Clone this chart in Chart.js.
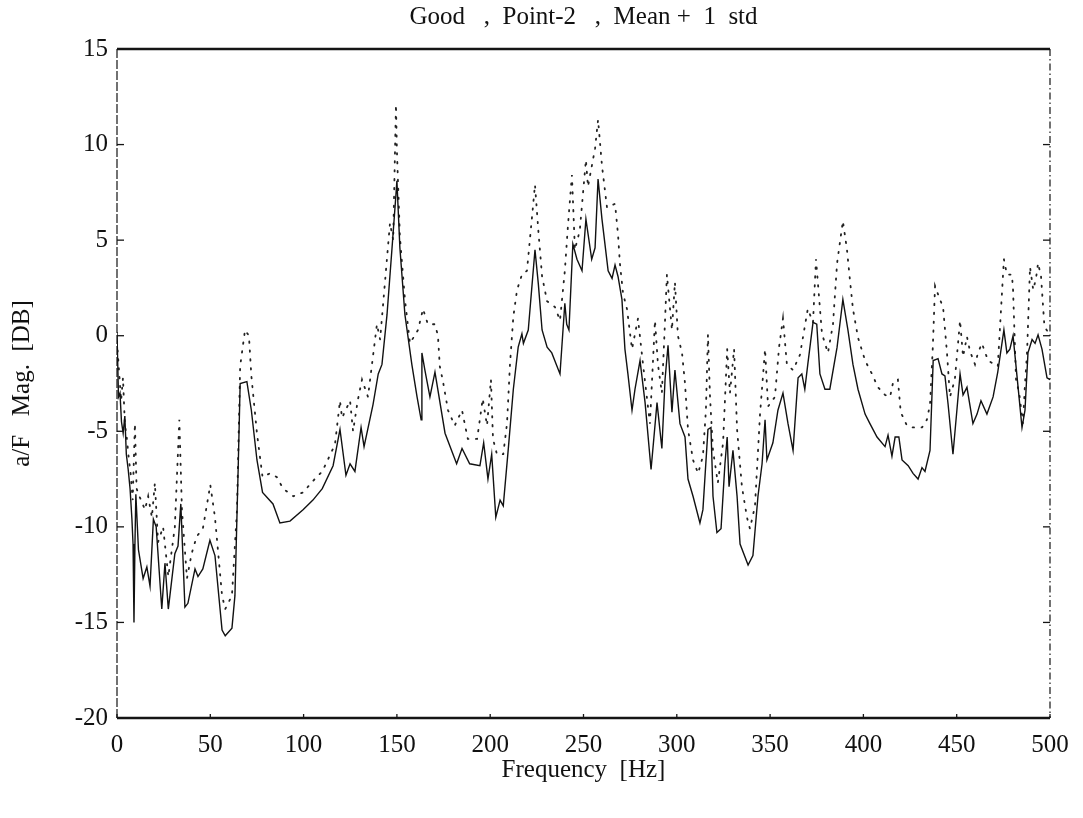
<!DOCTYPE html>
<html>
<head>
<meta charset="utf-8">
<script src="https://cdn.jsdelivr.net/npm/chart.js@4.4.0/dist/chart.umd.min.js"></script>
<style>
  html, body { margin: 0; padding: 0; background: #fff; }
</style>
</head>
<body>
<canvas id="grafica" width="1083" height="818"></canvas>
<script>
/* Good, Point-2: a/F magnitude, mean (solid) and mean + 1 std (dotted) */

const tituloGrafica = 'Good   ,  Point-2   ,  Mean +  1  std';
const tituloX = 'Frequency  [Hz]';
const tituloY = 'a/F   Mag.  [DB]';

const ticksX = [0, 50, 100, 150, 200, 250, 300, 350, 400, 450, 500];
const ticksY = [-20, -15, -10, -5, 0, 5, 10, 15];

// Mean (solid)
const mediaFrec = [
  0, 0.8, 1.6, 2.4, 3.3, 4.2, 5, 6, 7, 8, 8.6, 9.1, 9.6, 10.1, 11.5, 14, 16, 17.7, 19.5, 21,
  24, 25.7, 27.5, 31, 32.7, 34.2, 36.4, 38, 41.8, 43.4, 46, 49.8, 52.5, 56.3, 58, 61.6, 63.2, 65, 66, 69.6,
  72, 75, 78, 83.6, 87.3, 92.7, 99.7, 105, 110, 115.8, 119.5, 122.7, 124.9, 127.5, 130.8, 132.4, 137.2, 140, 142, 144.7,
  147.4, 149.5, 150, 151.6, 154.3, 158, 160.8, 163, 163.4, 165, 167.7, 170.4, 175.8, 182, 184.9, 189, 194.5, 196.5, 198.8, 200.8,
  203, 205.3, 207, 209.8, 212.4, 215, 217, 217.8, 220.4, 224, 225.8, 227.8, 230.5, 233, 237.4, 240, 241, 242.2, 244.3, 246.5,
  249.2, 251.3, 254.4, 256.2, 257.8, 259.9, 263.2, 265.3, 266.9, 268.5, 270.6, 272.2, 273.8, 276, 277.6, 280.3, 283, 286.2, 289.4, 292,
  293.7, 295.3, 297.4, 299, 301.7, 304.4, 306, 308.7, 312.4, 314, 316.7, 318.3, 319.4, 321.5, 323.7, 325.8, 327, 328, 330.1, 332.3,
  333.9, 338.2, 340.8, 343.5, 345.7, 347.3, 348.3, 351.5, 354.2, 356.9, 359.6, 362.3, 364.4, 365, 367, 368.6, 370.2, 373, 375, 376.7,
  379.4, 382, 385.9, 389, 391.7, 394.4, 397.1, 400.9, 403.5, 407.3, 411.6, 413.2, 415.3, 417, 419, 420.7, 424, 426.6, 429.3, 431.4,
  433, 435.7, 437.4, 440, 442.1, 443.7, 445.4, 448, 450.1, 451.8, 453.4, 455.5, 458.7, 460.9, 463, 466.2, 469.5, 472, 475.3, 476.9,
  478.5, 480.2, 482.3, 485, 486.6, 488.2, 490.4, 492, 493.6, 495.7, 498.4, 500
];
const mediaDb = [
  0.2, -3.2, -3.0, -4.5, -5.1, -4.2, -6.2, -7.0, -8.0, -9.6, -10.9, -15.0, -11.0, -8.3, -11.2, -12.7, -12.1, -13.1, -9.6, -10,
  -14.3, -11.9, -14.3, -11.4, -11.0, -8.8, -14.2, -14.0, -12.2, -12.6, -12.2, -10.7, -11.5, -15.4, -15.7, -15.3, -13.6, -6.7, -2.5, -2.4,
  -3.9, -6.5, -8.2, -8.8, -9.8, -9.7, -9.1, -8.6, -8.0, -6.8, -4.9, -7.3, -6.7, -7.1, -4.8, -5.8, -3.6, -2.0, -1.5, 1.1,
  4.6, 7.4, 8.1, 4.6, 1.1, -1.5, -3.2, -4.4, -0.9, -1.8, -3.2, -1.9, -5.1, -6.7, -5.9, -6.7, -6.8, -5.6, -7.5, -6.2,
  -9.5, -8.6, -8.9, -5.8, -2.8, -0.6, 0.1, -0.4, 0.3, 4.5, 2.7, 0.3, -0.6, -0.9, -2.0, 1.7, 0.6, 0.3, 4.8, 4.0,
  3.4, 6.1, 4.0, 4.6, 8.2, 6.1, 3.4, 3.0, 3.7, 3.1, 1.9, -0.7, -2.0, -3.9, -2.8, -1.3, -3.5, -7.0, -3.5, -5.9,
  -2.3, -0.5, -4.0, -1.8, -4.6, -5.3, -7.5, -8.4, -9.8, -9.1, -4.9, -4.8, -8.4, -10.3, -10.1, -6.7, -5.3, -7.9, -6.0, -8.4,
  -10.9, -12.0, -11.5, -8.4, -6.7, -4.4, -6.5, -5.6, -3.9, -3.0, -4.6, -6.0, -3.0, -2.2, -2.0, -2.8, -1.5, 0.7, 0.6, -2.0,
  -2.8, -2.8, -0.6, 1.9, 0.3, -1.5, -2.8, -4.1, -4.6, -5.3, -5.8, -5.2, -6.3, -5.3, -5.3, -6.5, -6.8, -7.2, -7.5, -6.9,
  -7.1, -6.0, -1.3, -1.2, -2.0, -2.1, -3.6, -6.2, -3.9, -2.0, -3.1, -2.7, -4.6, -4.1, -3.4, -4.1, -3.2, -1.9, 0.3, -0.9,
  -0.7, 0.0, -2.1, -4.8, -3.9, -0.9, -0.2, -0.4, 0.05, -0.7, -2.2, -2.3
];

// Mean + 1 std (dotted)
const stdFrec = [
  0, 1.2, 2.2, 3.2, 4.2, 5.2, 6.3, 7.3, 8.4, 9.6, 10.5, 12, 15, 16.7, 18.7, 20.3, 22, 24.7, 27.5, 31,
  33.4, 34.8, 37.5, 40, 42.7, 46, 50, 52.5, 56.3, 58, 61.6, 64.3, 66, 68.6, 70.7, 72, 75, 78, 82, 85.7,
  89, 94.5, 99.7, 105, 110, 116.8, 119.5, 120.6, 124.9, 126.5, 129, 131.3, 134.5, 139.3, 141, 146.3, 148, 149.5, 150, 151.6,
  154.3, 157, 161.3, 164, 166.6, 170.4, 172, 173, 174.7, 177.4, 181, 184.9, 188, 193, 196, 198.3, 200.4, 201.5, 203.6, 207,
  209, 210.6, 212.4, 214.4, 217, 219.7, 222.4, 224, 225.8, 227.8, 230.5, 234.7, 237.4, 240, 241.7, 243.8, 245.4, 248, 251.3, 252.4,
  256.2, 257.8, 259.9, 262.6, 266.9, 268.5, 269.5, 271.2, 273.3, 276, 279.2, 281.9, 285.6, 288.3, 289.9, 292, 293.7, 294.7, 297.4, 299,
  300.6, 302.8, 304.4, 306, 308.7, 311.4, 314, 315.6, 316.7, 317.8, 319.4, 322, 324.8, 327, 328.5, 330.7, 332.3, 334.9, 337.6, 339.2,
  341.9, 344.6, 347.3, 348.9, 352.6, 354.8, 356.9, 359, 362.3, 366, 370.2, 373, 374.6, 377.8, 381, 383.7, 385.9, 389, 391.2, 392.8,
  394.4, 397.1, 400.9, 404.6, 407.8, 411.6, 414.3, 416, 418.5, 420, 423.3, 426.6, 431.4, 434, 435.7, 437.2, 438.4, 441, 442.7, 444.8,
  446.4, 449, 451.8, 453.4, 455.5, 457.1, 459.8, 461.4, 463.5, 466.8, 472, 475.3, 476.9, 479.6, 480.2, 481.8, 483.5, 485.5, 486.6, 487.7,
  489.3, 491, 492.5, 493.6, 495.2, 497, 500
];
const stdDb = [
  -0.3, -2.0, -3.4, -2.2, -4.6, -5.3, -6.4, -7.2, -8.6, -4.6, -8.0, -8.4, -9.1, -8.4, -9.5, -7.7, -10.8, -10, -12.6, -10,
  -4.4, -9.1, -12.7, -11.4, -10.5, -10.1, -7.8, -9.5, -13.6, -14.3, -13.6, -9.1, -1.6, 0.3, 0.0, -2.1, -5.1, -7.4, -7.2, -7.4,
  -8.0, -8.4, -8.2, -7.6, -7.1, -5.7, -3.4, -4.3, -3.4, -5.0, -3.4, -2.3, -3.2, 0.6, -0.2, 5.9, 5.0, 12.1, 9.7, 5.2,
  1.9, -0.4, 0.3, 1.4, 0.6, 0.6, 0.0, -1.6, -2.4, -3.9, -4.7, -3.9, -5.4, -5.4, -3.3, -4.7, -2.3, -5.4, -6.2, -6.2,
  -4.6, -1.5, 1.0, 2.4, 3.2, 3.4, 6.2, 7.9, 5.5, 3.1, 1.8, 1.5, 0.8, 3.4, 5.8, 8.4, 4.5, 5.5, 9.2, 7.8,
  9.8, 11.3, 8.9, 6.7, 6.9, 5.3, 3.8, 2.2, 1.4, -0.7, 0.9, -1.5, -4.6, 0.8, -1.5, -3.0, 0.8, 3.2, 0.3, 2.8,
  0.0, -0.9, -2.5, -4.9, -6.5, -7.2, -6.3, -3.9, 0.05, -3.2, -6.0, -7.7, -5.6, -0.7, -3.0, -0.7, -4.9, -7.9, -9.5, -10.1,
  -8.9, -4.1, -0.7, -3.7, -3.2, -0.6, 0.9, -1.5, -1.8, -1.0, 1.4, 0.7, 4.0, 0.1, -0.9, 0.6, 3.8, 6.0, 4.5, 2.9,
  1.4, -0.1, -1.3, -2.0, -2.7, -3.1, -3.2, -2.4, -2.3, -4.0, -4.7, -4.8, -4.8, -4.4, -3.6, -0.6, 2.6, 1.9, 1.5, -0.9,
  -3.2, -2.3, 0.8, -1.1, -0.05, -0.8, -1.5, -0.9, -0.4, -1.3, -1.6, 4.0, 3.2, 3.2, 2.4, -2.3, -3.0, -4.6, -2.5, -0.9,
  3.6, 2.4, 3.0, 3.8, 3.1, 0.5, 0.0
];

const fuente = '"Liberation Serif", "Times New Roman", serif';

function puntos(frec, db) {
  return frec.map((f, i) => ({ x: f, y: db[i] }));
}

// marco del grafico: borde superior grueso, izquierda rayada, derecha punto-raya, marcas hacia dentro
const marco = {
  id: 'marco',
  afterDraw(chart) {
    const { ctx, chartArea: a, scales } = chart;
    const linea = (x1, y1, x2, y2) => { ctx.beginPath(); ctx.moveTo(x1, y1); ctx.lineTo(x2, y2); ctx.stroke(); };
    ctx.save();
    ctx.strokeStyle = '#151515';
    ctx.lineWidth = 2.4;
    linea(a.left, a.top, a.right, a.top);
    linea(a.left, a.bottom, a.right, a.bottom);
    ctx.lineWidth = 1.2;
    ctx.setLineDash([9, 2]);
    linea(a.left, a.top, a.left, a.bottom);
    ctx.setLineDash([7, 3, 1.5, 3]);
    linea(a.right, a.top, a.right, a.bottom);
    ctx.setLineDash([]);
    ctx.lineWidth = 1.3;
    for (const t of scales.y.ticks) {
      const py = scales.y.getPixelForValue(t.value);
      linea(a.left, py, a.left + 7, py);
      linea(a.right - 7, py, a.right, py);
    }
    for (const t of scales.x.ticks) {
      const px = scales.x.getPixelForValue(t.value);
      linea(px, a.bottom, px, a.bottom - 4);
    }
    ctx.restore();
  }
};

new Chart(document.getElementById('grafica'), {
  type: 'line',
  data: {
    datasets: [
      {
        label: 'Mean',
        data: puntos(mediaFrec, mediaDb),
        borderColor: '#111',
        borderWidth: 1.4,
        pointRadius: 0,
        tension: 0,
      },
      {
        label: 'Mean + 1 std',
        data: puntos(stdFrec, stdDb),
        borderColor: '#222',
        borderWidth: 1.8,
        borderDash: [1.4, 7.5],
        borderCapStyle: 'round',
        pointRadius: 0,
        tension: 0,
      },
    ],
  },
  options: {
    responsive: false,
    animation: false,
    layout: { padding: { left: 0, right: 33, top: 0, bottom: 0 } },
    plugins: {
      legend: { display: false },
      tooltip: { enabled: false },
      title: {
        display: true,
        text: tituloGrafica,
        fullSize: false,
        color: '#111',
        font: { family: fuente, size: 25, weight: 'normal' },
        padding: { top: 2, bottom: 17 },
      },
    },
    scales: {
      x: {
        type: 'linear',
        min: 0,
        max: 500,
        afterBuildTicks: s => { s.ticks = ticksX.map(v => ({ value: v })); },
        afterFit: s => { s.height = 100; },
        grid: { display: false, drawTicks: false },
        border: { display: false },
        ticks: { color: '#111', padding: 12, font: { family: fuente, size: 25 } },
        title: {
          display: true,
          text: tituloX,
          color: '#111',
          font: { family: fuente, size: 25 },
          padding: { top: 0, bottom: 33 },
        },
      },
      y: {
        type: 'linear',
        min: -20,
        max: 15,
        afterBuildTicks: s => { s.ticks = ticksY.map(v => ({ value: v })); },
        afterFit: s => { s.width = 117; },
        grid: { display: false, drawTicks: false },
        border: { display: false },
        ticks: { color: '#111', padding: 9, font: { family: fuente, size: 25 } },
        title: {
          display: true,
          text: tituloY,
          color: '#111',
          font: { family: fuente, size: 25 },
          padding: { top: 7, bottom: 0 },
        },
      },
    },
  },
  plugins: [marco],
});
</script>
</body>
</html>
